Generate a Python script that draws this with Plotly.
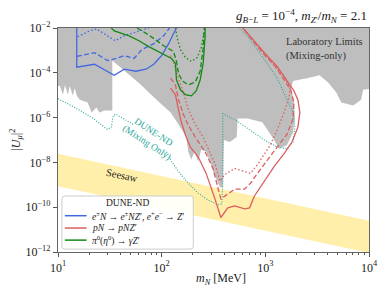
import numpy as np
import plotly.graph_objects as go

# ---- values: log10(m_N / MeV) and log10(|U_mu|^2) ----
lab_logm = [1.00, 4.00, 4.00, 3.943, 3.924, 3.848, 3.733, 3.686, 3.610, 3.524, 3.400, 3.267, 3.248,
            3.276, 3.286, 3.267, 3.210, 3.133, 3.067, 2.971, 2.829, 2.733, 2.724, 2.657, 2.600,
            2.590, 2.562, 2.505, 2.467, 2.429, 2.381, 2.352, 2.314, 2.286, 2.257, 2.238, 2.162,
            2.086, 1.971, 1.781, 1.524, 1.524, 1.448, 1.400, 1.371, 1.324, 1.286, 1.210, 1.181,
            1.162, 1.143, 1.114, 1.095, 1.067, 1.048, 1.019, 1.00]
lab_logU = [-2.00, -2.00, -4.72, -4.76, -5.20, -5.46, -5.33, -4.89, -4.46, -4.11, -4.24, -4.37, -4.68,
            -5.33, -5.99, -6.65, -7.22, -7.39, -6.87, -6.21, -6.04, -6.04, -6.87, -7.09, -7.00,
            -9.11, -9.11, -8.49, -7.96, -7.53, -7.44, -7.96, -7.53, -7.88, -7.53, -6.87, -6.30,
            -5.77, -5.29, -4.46, -3.45, -5.68, -5.68, -5.77, -5.55, -5.77, -5.33, -5.20, -5.03,
            -4.68, -5.03, -4.59, -4.98, -4.54, -4.98, -4.59, -4.59]

seesaw_logm = [1.0, 4.0]
seesaw_upper_logU = [-7.61, -10.60]
seesaw_lower_logU = [-9.06, -12.04]

blue_solid_logm = [1.181, 1.181, 1.352, 1.476, 1.543, 1.638, 1.752, 1.848, 1.924, 2.000, 2.067, 2.114, 2.143]
blue_solid_logU = [-2.00, -3.75, -3.62, -3.93, -4.11, -3.84, -3.93, -3.84, -3.62, -3.23, -2.70, -2.26, -2.00]
blue_dash_logm = [1.181, 1.352, 1.476, 1.562, 1.638, 1.733, 1.810, 1.924, 2.019, 2.076]
blue_dash_logU = [-3.27, -3.10, -3.45, -3.36, -3.23, -3.36, -2.96, -2.70, -2.35, -2.00]
blue_dot_logm = [1.190, 1.305, 1.371, 1.457, 1.552, 1.638, 1.733, 1.800, 1.876]
blue_dot_logU = [-2.39, -2.13, -2.04, -2.31, -2.57, -2.35, -2.22, -2.13, -2.00]

green_solid_logm = [1.514, 1.543, 1.686, 1.781, 1.876, 2.000, 2.095, 2.133, 2.143, 2.181, 2.229,
                    2.286, 2.333, 2.371, 2.400, 2.419, 2.419]
green_solid_logU = [-2.00, -2.13, -2.35, -2.57, -2.83, -3.14, -3.36, -3.58, -4.32, -4.76, -4.98,
                    -5.03, -4.81, -4.32, -3.58, -2.39, -2.00]
green_dash_logm = [1.762, 1.876, 2.019, 2.114, 2.143, 2.162, 2.200, 2.257, 2.324, 2.371, 2.400, 2.410]
green_dash_logU = [-2.00, -2.31, -2.79, -3.05, -3.49, -4.02, -4.37, -4.54, -4.41, -3.93, -2.92, -2.00]
green_dot_logm = [2.133, 2.152, 2.181, 2.229, 2.286, 2.343, 2.381, 2.410, 2.419]
green_dot_logU = [-2.00, -2.48, -2.96, -3.32, -3.49, -3.32, -2.88, -2.26, -2.00]

red_solid_logm = [2.086, 2.133, 2.162, 2.190, 2.229, 2.276, 2.352, 2.429, 2.514, 2.571, 2.638, 2.705,
                  2.800, 2.848, 2.895, 2.990, 3.086, 3.181, 3.257, 3.314, 3.333, 3.314, 3.276, 3.210,
                  3.114, 2.990, 2.895, 2.800, 2.781]
red_solid_logU = [-4.68, -4.98, -5.64, -6.21, -6.78, -7.31, -7.75, -8.49, -9.63, -10.46, -10.03, -9.94,
                  -10.07, -10.03, -9.50, -8.84, -8.18, -7.61, -7.09, -6.43, -5.77, -5.20, -4.81, -4.37,
                  -3.71, -3.10, -2.57, -2.09, -2.00]
red_dash_logm = [2.086, 2.133, 2.162, 2.210, 2.257, 2.324, 2.419, 2.495, 2.543, 2.571, 2.638, 2.705,
                 2.800, 2.857, 2.924, 3.019, 3.114, 3.210, 3.267, 3.276, 3.248, 3.190, 3.095, 2.971,
                 2.876, 2.790, 2.781]
red_dash_logU = [-4.24, -4.54, -5.20, -5.86, -6.34, -6.87, -7.53, -8.27, -9.15, -9.63, -9.41, -9.19,
                 -9.19, -8.93, -8.49, -7.88, -7.31, -6.74, -6.04, -5.33, -4.81, -4.37, -3.71, -3.10,
                 -2.57, -2.09, -2.00]
red_dot_logm = [2.086, 2.124, 2.162, 2.210, 2.257, 2.324, 2.400, 2.467, 2.514, 2.562, 2.610, 2.705,
                2.800, 2.857, 2.924, 2.990, 3.048, 3.114, 3.181, 3.229, 3.238, 3.181, 3.076, 2.962,
                2.867, 2.790]
red_dot_logU = [-3.23, -3.67, -4.24, -4.89, -5.64, -6.30, -6.87, -7.53, -8.05, -8.84, -8.54, -8.27,
                -8.40, -8.49, -8.10, -7.66, -7.22, -6.56, -5.77, -5.11, -4.68, -4.15, -3.58, -3.01,
                -2.48, -2.00]

teal_a_logm = [1.000, 1.162, 1.324, 1.476, 1.514, 1.533, 1.562, 1.657, 1.724]
teal_a_logU = [-5.16, -5.55, -5.99, -6.52, -6.43, -5.90, -5.86, -6.12, -6.30]
teal_b_logm = [2.048, 2.095, 2.162, 2.257, 2.352, 2.448, 2.543, 2.581, 2.590, 2.590, 2.733, 2.876,
               2.990, 3.114, 3.210, 3.267, 3.286, 3.267, 3.210, 3.114, 2.952, 2.829, 2.752]
teal_b_logU = [-7.53, -7.96, -8.40, -8.93, -9.37, -9.68, -9.89, -9.85, -8.84, -5.82, -6.17, -6.65,
               -7.00, -7.31, -7.39, -7.09, -6.43, -5.77, -5.20, -4.24, -3.14, -2.39, -2.00]

x_tick_exp = [1, 2, 3, 4]
y_tick_exp = [-2, -4, -6, -8, -10, -12]

legend_title = "DUNE-ND"
legend_labels = [
    "<i>e</i><sup>±</sup><i>N</i> → <i>e</i><sup>±</sup><i>NZ</i>′, <i>e</i><sup>+</sup><i>e</i><sup>−</sup> → <i>Z</i>′",
    "<i>pN</i> → <i>pNZ</i>′",
    "<i>π</i><sup>0</sup>(<i>η</i><sup>0</sup>) → <i>γZ</i>′",
]

# ---- styling ----
SERIF = "Liberation Serif"
BLUE, RED, GREEN, TEAL = "#4169E1", "#DD5E5E", "#138A13", "#26A69A"
LW = 1.3
legend_colors = [BLUE, RED, GREEN]


def p(a):
    return 10 ** np.asarray(a, dtype=float)


fig = go.Figure()

# seesaw band
fig.add_trace(go.Scatter(
    x=p(seesaw_logm + seesaw_logm[::-1]),
    y=p(seesaw_upper_logU + seesaw_lower_logU[::-1]),
    fill="toself", fillcolor="#FFEFAA", line=dict(width=0), mode="lines",
    showlegend=False, hoverinfo="skip"))

# laboratory limits
fig.add_trace(go.Scatter(
    x=p(lab_logm), y=p(lab_logU), fill="toself", fillcolor="#BEBEBE",
    line=dict(width=0), mode="lines", showlegend=False, hoverinfo="skip"))

# DUNE-ND mixing only (teal dotted, broken by its label)
fig.add_trace(go.Scatter(
    x=list(p(teal_a_logm)) + [None] + list(p(teal_b_logm)),
    y=list(p(teal_a_logU)) + [None] + list(p(teal_b_logU)),
    mode="lines", line=dict(color=TEAL, width=1.1, dash="1px,1.6px"),
    showlegend=False, connectgaps=False))


def add_line(lx, ly, color, dash):
    fig.add_trace(go.Scatter(
        x=p(lx), y=p(ly), mode="lines",
        line=dict(color=color, width=LW, dash=dash), showlegend=False))


add_line(blue_dot_logm, blue_dot_logU, BLUE, "1.5px,2.2px")
add_line(blue_dash_logm, blue_dash_logU, BLUE, "5px,2.5px")
add_line(green_dot_logm, green_dot_logU, GREEN, "1.5px,2.2px")
add_line(green_dash_logm, green_dash_logU, GREEN, "5px,2.5px")
add_line(red_dot_logm, red_dot_logU, RED, "1.5px,2.2px")
add_line(red_dash_logm, red_dash_logU, RED, "5px,2.5px")
add_line(blue_solid_logm, blue_solid_logU, BLUE, "solid")
add_line(red_solid_logm, red_solid_logU, RED, "solid")
add_line(green_solid_logm, green_solid_logU, GREEN, "solid")

minor_x = [k * 10 ** e for e in range(1, 4) for k in range(2, 10)]

fig.update_xaxes(
    type="log", range=[1, 4],
    tickvals=[10 ** e for e in x_tick_exp],
    ticktext=[f"10<sup>{e}</sup>" for e in x_tick_exp],
    ticks="outside", ticklen=4, tickcolor="#555", tickwidth=1,
    minor=dict(tickvals=minor_x, ticks="outside", ticklen=2, tickcolor="#555", tickwidth=0.8),
    showline=True, linecolor="#666", linewidth=1.2, mirror=True,
    showgrid=False, zeroline=False,
    tickfont=dict(family=SERIF, size=12, color="#222"))
fig.update_yaxes(
    type="log", range=[-12, -2],
    tickvals=[10 ** e for e in y_tick_exp],
    ticktext=[f"10<sup>−{-e}</sup>" for e in y_tick_exp],
    ticks="outside", ticklen=4, tickcolor="#555", tickwidth=1,
    showline=True, linecolor="#666", linewidth=1.2, mirror=True,
    showgrid=False, zeroline=False,
    tickfont=dict(family=SERIF, size=12, color="#222"))

anns = [
    dict(x=1, y=1, xref="paper", yref="paper", xanchor="right", yanchor="middle", yshift=12,
         text="<i>g</i><sub><i>B</i>−<i>L</i></sub> = 10<sup>−4</sup>, <i>m</i><sub><i>Z</i>′</sub>/<i>m</i><sub><i>N</i></sub> = 2.1",
         font=dict(family=SERIF, size=13, color="#222")),
    dict(x=3.18, y=-2.92, xref="x", yref="y", xanchor="left", yanchor="middle", align="left",
         text="Laboratory Limits<br>(Mixing-only)",
         font=dict(family=SERIF, size=10.5, color="#333")),
    dict(x=1.62, y=-8.58, xref="x", yref="y", textangle=12, text="Seesaw",
         font=dict(family=SERIF, size=10.5, color="#222")),
    dict(x=1.886, y=-6.91, xref="x", yref="y", textangle=33,
         text="DUNE-ND<br>(Mixing Only)",
         font=dict(family=SERIF, size=9.5, color=TEAL)),
    dict(x=0.524, y=0, xref="paper", yref="paper", xanchor="center", yanchor="middle",
         yshift=-27, text="<i>m<sub>N</sub></i> [MeV]",
         font=dict(family=SERIF, size=12, color="#222")),
    dict(x=-0.1365, y=0.5, xref="paper", yref="paper", xanchor="center", yanchor="middle",
         textangle=-90, text="|<i>U<sub>μ</sub></i>|<sup>2</sup>",
         font=dict(family=SERIF, size=12, color="#222")),
]

# ---- legend box (drawn in paper coordinates, like the reference's compact legend) ----
bx0, bx1, by0, by1, rx, ry = 0.0127, 0.435, 0.013, 0.25, 0.0095, 0.013
box_path = (f"M {bx0+rx},{by0} L {bx1-rx},{by0} Q {bx1},{by0} {bx1},{by0+ry} "
            f"L {bx1},{by1-ry} Q {bx1},{by1} {bx1-rx},{by1} L {bx0+rx},{by1} "
            f"Q {bx0},{by1} {bx0},{by1-ry} L {bx0},{by0+ry} Q {bx0},{by0} {bx0+rx},{by0} Z")
shapes = [dict(type="path", path=box_path, xref="paper", yref="paper",
               fillcolor="rgba(255,255,255,0.9)", line=dict(color="#CCCCCC", width=1))]
row_y = [0.162, 0.107, 0.053]
for yy, col, lab in zip(row_y, legend_colors, legend_labels):
    shapes.append(dict(type="line", xref="paper", yref="paper", x0=0.022, x1=0.092, y0=yy, y1=yy,
                       line=dict(color=col, width=1.5)))
    anns.append(dict(x=0.102, y=yy, xref="paper", yref="paper", xanchor="left", yanchor="middle",
                     text=lab, font=dict(family=SERIF, size=9.5, color="#222")))
anns.append(dict(x=0.224, y=0.219, xref="paper", yref="paper", xanchor="center", yanchor="middle",
                 text=legend_title, font=dict(family=SERIF, size=9.5, color="#222")))

for a in anns:
    a.setdefault("showarrow", False)

# the page's body has an 8 px margin, so the figure is 8 px smaller each way
fig.update_layout(
    width=382, height=285,
    margin=dict(l=50, r=17, t=16, b=41),
    plot_bgcolor="white", paper_bgcolor="white",
    font=dict(family=SERIF, color="#222"),
    showlegend=False,
    annotations=anns, shapes=shapes,
)

fig.write_html("out.html")
